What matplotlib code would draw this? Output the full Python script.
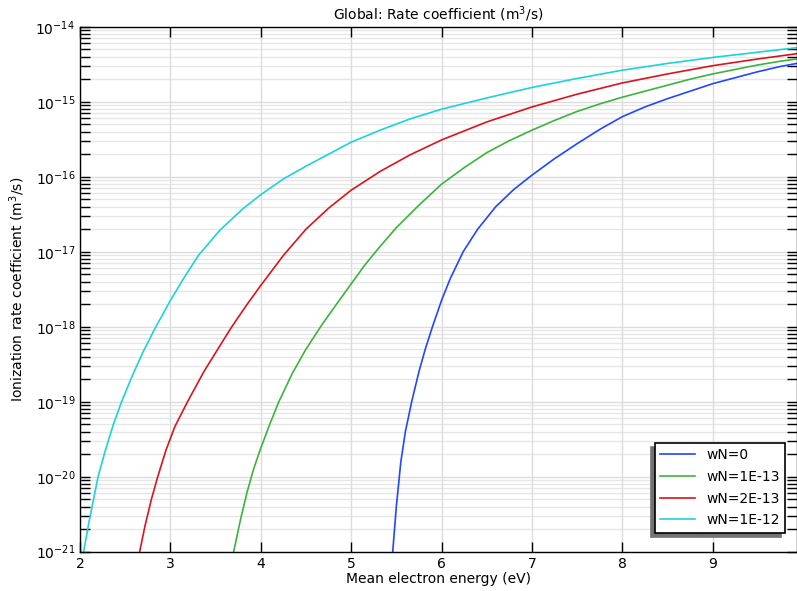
import numpy as np
import matplotlib
matplotlib.use("Agg")
import matplotlib.pyplot as plt
from matplotlib.ticker import NullFormatter, LogLocator

# values (x in eV, log10 of rate coefficient in m^3/s)
blue_x = [5.46, 5.50, 5.55, 5.60, 5.67, 5.75, 5.82, 5.90, 6.00, 6.10, 6.24, 6.40, 6.60, 6.80,
          7.00, 7.25, 7.50, 7.75, 8.00, 8.25, 8.50, 8.75, 9.00, 9.25, 9.50, 9.75, 9.93]
blue_log = [-21, -20.4, -19.8, -19.4, -19.0, -18.6, -18.3, -18.0, -17.65, -17.35, -17.0, -16.7,
            -16.4, -16.17, -15.98, -15.76, -15.56, -15.37, -15.20, -15.07, -14.96, -14.86,
            -14.76, -14.68, -14.60, -14.53, -14.49]

green_x = [3.70, 3.78, 3.85, 3.92, 4.00, 4.10, 4.20, 4.35, 4.50, 4.69, 4.85, 5.00, 5.15, 5.32,
           5.50, 5.75, 6.00, 6.25, 6.50, 6.75, 7.00, 7.25, 7.50, 7.75, 8.00, 8.25, 8.50, 8.75,
           9.00, 9.25, 9.50, 9.75, 9.93]
green_log = [-21, -20.55, -20.2, -19.9, -19.62, -19.3, -19.0, -18.62, -18.3, -17.95, -17.68,
             -17.43, -17.18, -16.93, -16.68, -16.38, -16.10, -15.88, -15.68, -15.52, -15.38,
             -15.25, -15.13, -15.03, -14.94, -14.86, -14.78, -14.70, -14.63, -14.57, -14.51,
             -14.46, -14.43]

red_x = [2.66, 2.72, 2.79, 2.86, 2.95, 3.05, 3.19, 3.37, 3.55, 3.68, 3.85, 4.00, 4.25, 4.50,
         4.75, 5.00, 5.32, 5.65, 6.00, 6.50, 7.00, 7.50, 8.00, 8.50, 9.00, 9.50, 9.93]
red_log = [-21, -20.65, -20.3, -20.0, -19.65, -19.33, -19.0, -18.6, -18.25, -18.0, -17.7, -17.45,
           -17.05, -16.7, -16.42, -16.18, -15.93, -15.71, -15.51, -15.27, -15.07, -14.90,
           -14.75, -14.63, -14.52, -14.43, -14.36]

cyan_x = [2.04, 2.10, 2.15, 2.20, 2.28, 2.37, 2.46, 2.58, 2.70, 2.84, 3.00, 3.15, 3.31, 3.55,
          3.80, 4.00, 4.25, 4.50, 4.75, 5.00, 5.32, 5.65, 6.00, 6.50, 7.00, 7.50, 8.00, 8.50,
          9.00, 9.50, 9.93]
cyan_log = [-21, -20.6, -20.3, -20.0, -19.65, -19.3, -19.0, -18.65, -18.33, -18.0, -17.65,
            -17.35, -17.05, -16.71, -16.43, -16.24, -16.03, -15.86, -15.70, -15.54, -15.38,
            -15.23, -15.10, -14.95, -14.81, -14.69, -14.58, -14.49, -14.41, -14.34, -14.28]

labels = ["wN=0", "wN=1E-13", "wN=2E-13", "wN=1E-12"]
colors = ["#2346ff", "#3cb43c", "#d9141e", "#1cd3d8"]

fig = plt.figure(figsize=(7.97, 5.91), dpi=100)
ax = fig.add_axes([0.1004, 0.0665, 0.8992, 0.8883])

series = [(blue_x, blue_log), (green_x, green_log), (red_x, red_log), (cyan_x, cyan_log)]
for (xs, ls), lab, col in zip(series, labels, colors):
    ax.plot(xs, 10.0 ** np.array(ls), color=col, lw=1.2, label=lab)

ax.set_yscale("log")
ax.set_xlim(2, 9.93)
ax.set_ylim(1e-21, 1e-14)
ax.set_xticks([2, 3, 4, 5, 6, 7, 8, 9])
# only the decades inside the view, so no hidden labels sit past the edges
ax.set_yticks(10.0 ** np.arange(-21, -13))
ax.yaxis.set_minor_locator(LogLocator(base=10, subs=np.arange(2, 10), numticks=20))
ax.yaxis.set_minor_formatter(NullFormatter())

ax.grid(True, which="major", color="#dcdcdc", lw=1)
ax.grid(True, which="minor", axis="y", color="#e6e6e6", lw=1)
ax.set_axisbelow(True)
# draw x axis after y axis so the top ticks are not broken by the y grid
ax.xaxis.set_zorder(0.6)

ax.tick_params(which="both", direction="in", top=True, right=True, length=7,
               width=1, labelsize=10, color="black")
ax.tick_params(axis="x", which="minor", top=False, bottom=False)
for s in ax.spines.values():
    s.set_linewidth(1)

ax.set_title("Global: Rate coefficient (m$^3$/s)", fontsize=10, pad=5)
ax.set_xlabel("Mean electron energy (eV)", fontsize=10, labelpad=1)
ax.set_ylabel("Ionization rate coefficient (m$^3$/s)", fontsize=10, labelpad=6)

leg = ax.legend(loc="lower right", bbox_to_anchor=(0.984, 0.036), borderaxespad=0,
                fancybox=False, edgecolor="black", framealpha=1, fontsize=10,
                handlelength=2.5, labelspacing=0.55,
                shadow={"ox": -3, "oy": -3, "alpha": 1, "facecolor": "0.45", "edgecolor": "0.45"})
leg.get_frame().set_linewidth(1.2)

fig.savefig("out.png", dpi=100)
